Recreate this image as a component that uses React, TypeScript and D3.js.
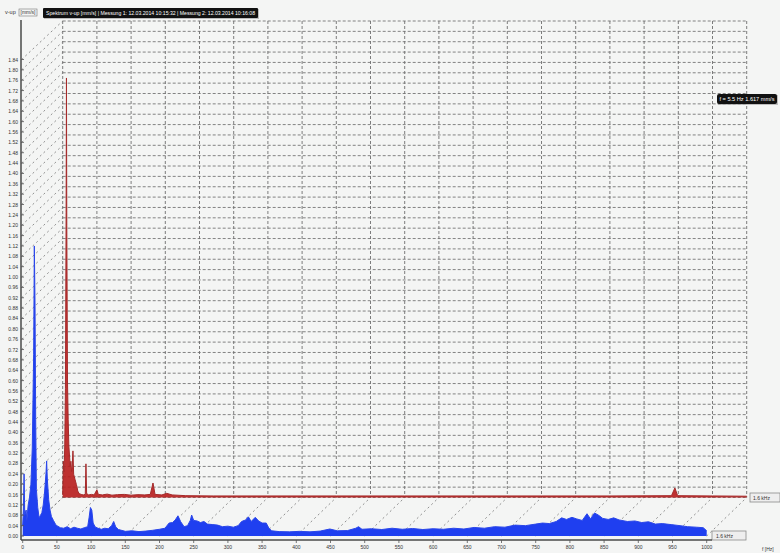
import * as d3 from 'd3';

const W = 780;
const H = 553;

// frequency axis (Hz) and amplitude axis (mm/s)
const X_TICKS = [0, 50, 100, 150, 200, 250, 300, 350, 400, 450, 500, 550, 600, 650, 700, 750, 800, 850, 900, 950, 1000];
const Y_TICKS = [
  0, 0.04, 0.08, 0.12, 0.16, 0.2, 0.24, 0.28, 0.32, 0.36, 0.4, 0.44, 0.48, 0.52, 0.56, 0.6,
  0.64, 0.68, 0.72, 0.76, 0.8, 0.84, 0.88, 0.92, 0.96, 1.0, 1.04, 1.08, 1.12, 1.16, 1.2, 1.24,
  1.28, 1.32, 1.36, 1.4, 1.44, 1.48, 1.52, 1.56, 1.6, 1.64, 1.68, 1.72, 1.76, 1.8, 1.84,
];

// front trace (blue): [Hz, mm/s]
const BLUE: [number, number][] = [
  [0, 0.04], [1, 0.1], [2, 0.24], [3, 0.08], [5, 0.1], [6, 0.06], [8, 0.12], [10, 0.15],
  [12, 0.2], [14, 0.34], [16, 0.7], [17, 1.12], [18, 0.9], [19, 0.45], [20, 0.18], [22, 0.11],
  [24, 0.07], [26, 0.08], [28, 0.09], [30, 0.12], [32, 0.17], [34, 0.24], [35, 0.29], [36, 0.22],
  [38, 0.14], [40, 0.1], [42, 0.075], [45, 0.06], [48, 0.045], [50, 0.04], [55, 0.032], [60, 0.03],
  [65, 0.036], [70, 0.028], [75, 0.034], [80, 0.03], [85, 0.027], [90, 0.032], [95, 0.036], [97, 0.07],
  [99, 0.11], [101, 0.1], [103, 0.05], [106, 0.035], [110, 0.03], [115, 0.026], [120, 0.03], [125, 0.028],
  [130, 0.04], [133, 0.056], [136, 0.035], [140, 0.025], [150, 0.018], [160, 0.02], [170, 0.017], [180, 0.019],
  [190, 0.022], [200, 0.026], [208, 0.03], [214, 0.05], [219, 0.052], [223, 0.062], [227, 0.078], [231, 0.055],
  [236, 0.036], [241, 0.04], [245, 0.06], [247, 0.081], [250, 0.06], [255, 0.058], [260, 0.052], [265, 0.056],
  [270, 0.046], [278, 0.044], [285, 0.042], [292, 0.036], [300, 0.038], [308, 0.034], [315, 0.04], [320, 0.056],
  [326, 0.062], [330, 0.074], [334, 0.056], [340, 0.072], [345, 0.058], [350, 0.05], [356, 0.05], [360, 0.03],
  [364, 0.02], [375, 0.017], [390, 0.016], [405, 0.018], [420, 0.016], [435, 0.019], [449, 0.027], [460, 0.02],
  [475, 0.021], [487, 0.03], [491, 0.036], [496, 0.026], [510, 0.028], [525, 0.025], [540, 0.03], [555, 0.026],
  [570, 0.029], [585, 0.025], [600, 0.028], [615, 0.026], [630, 0.03], [645, 0.027], [660, 0.033], [675, 0.03],
  [690, 0.036], [705, 0.034], [720, 0.042], [735, 0.04], [750, 0.046], [760, 0.05], [770, 0.048], [780, 0.056],
  [788, 0.07], [795, 0.064], [803, 0.072], [810, 0.066], [818, 0.06], [825, 0.086], [830, 0.066], [836, 0.089],
  [842, 0.08], [848, 0.068], [856, 0.064], [864, 0.07], [872, 0.062], [884, 0.056], [895, 0.058], [905, 0.052],
  [915, 0.055], [925, 0.046], [935, 0.048], [948, 0.044], [961, 0.04], [972, 0.036], [985, 0.034], [995, 0.032],
  [1000, 0.02],
];

// back trace (red): [Hz, mm/s]
const RED: [number, number][] = [
  [0, 0.01], [1, 0.14], [2, 0.1], [3, 0.2], [4, 0.42], [5, 1.1], [5.5, 1.62], [6, 1.05],
  [7, 0.45], [8, 0.3], [9, 0.2], [10, 0.16], [11, 0.12], [12, 0.14], [13, 0.1], [14, 0.12],
  [15, 0.18], [16, 0.09], [17, 0.08], [18, 0.07], [19, 0.06], [20, 0.05], [21, 0.04], [22, 0.025],
  [24, 0.015], [27, 0.012], [30, 0.01], [33, 0.012], [34, 0.13], [35, 0.015], [38, 0.01], [42, 0.012],
  [46, 0.01], [50, 0.03], [52, 0.012], [58, 0.01], [65, 0.013], [72, 0.009], [80, 0.011], [90, 0.012],
  [100, 0.009], [110, 0.011], [120, 0.01], [128, 0.012], [132, 0.056], [135, 0.012], [145, 0.01], [152, 0.016],
  [160, 0.01], [180, 0.007], [220, 0.006], [300, 0.006], [400, 0.006], [500, 0.006], [600, 0.006], [700, 0.006],
  [800, 0.006], [890, 0.007], [895, 0.037], [899, 0.007], [950, 0.006], [1000, 0.005],
];

const HEADER = 'Spektrum v-up [mm/s]  |  Messung 1: 12.03.2014 10:15:32  |  Messung 2: 12.03.2014 10:16:08';
const CURSOR = 'f = 5.5 Hz   1.617 mm/s';
const RED_TAG = '1.6 kHz';
const BLUE_TAG = '1.6 kHz';

// depth offset of the back plane
const DX = 40;
const DY = -38.5;

const FONT = '"Liberation Sans", Arial, sans-serif';
const GRID = '#707070';

export default function App() {
  const xF = d3.scaleLinear().domain([0, 1000]).range([22.7, 706.7]);
  const yF = d3.scaleLinear().domain([0, 1.84]).range([536, 59.5]);
  const xB = (f: number) => xF(f) + DX;
  const yB = (v: number) => yF(v) + DY;

  const blueArea = d3
    .area<[number, number]>()
    .x((d) => xF(d[0]))
    .y0(yF(0))
    .y1((d) => yF(d[1]));
  const blueLine = d3
    .line<[number, number]>()
    .x((d) => xF(d[0]))
    .y((d) => yF(d[1]));
  const redArea = d3
    .area<[number, number]>()
    .x((d) => xB(d[0]))
    .y0(yB(0))
    .y1((d) => yB(d[1]));
  const redLine = d3
    .line<[number, number]>()
    .x((d) => xB(d[0]))
    .y((d) => yB(d[1]));

  const top = yB(1.84);
  const left = xB(0);
  const right = xB(1000);
  const bottom = yB(0);

  return (
    <svg
      width={W}
      height={H}
      style={{ position: 'absolute', left: 0, top: 0, background: '#f4f5f4' }}
      fontFamily={FONT}
    >
      <rect width={W} height={H} fill="#f4f5f4" />

      {/* back wall grid */}
      {Y_TICKS.map((t) => (
        <line key={'h' + t} x1={left} x2={right} y1={yB(t)} y2={yB(t)} stroke={GRID} strokeWidth={1} strokeDasharray="3,2" opacity={0.85} />
      ))}
      {X_TICKS.map((t) => (
        <line key={'v' + t} x1={xB(t)} x2={xB(t)} y1={top} y2={bottom} stroke={GRID} strokeWidth={1} strokeDasharray="3,2" opacity={0.9} />
      ))}

      {/* side wall and floor depth lines */}
      {Y_TICKS.map((t) => (
        <line key={'wd' + t} x1={xF(0) - 1} y1={yF(t)} x2={left} y2={yB(t)} stroke={GRID} strokeWidth={1} strokeDasharray="2,3" opacity={0.75} />
      ))}
      {X_TICKS.map((t) => (
        <line key={'fd' + t} x1={xF(t)} y1={yF(0)} x2={xB(t)} y2={yB(0)} stroke={GRID} strokeWidth={1} strokeDasharray="2,3" opacity={0.75} />
      ))}

      {/* back trace */}
      <path d={redArea(RED) ?? ''} fill="#b81c1c" opacity={0.9} />
      <path d={redLine(RED) ?? ''} fill="none" stroke="#a52a2a" strokeWidth={1} />
      <rect x={750} y={493} width={30} height={9} fill="#eeeeee" stroke="#8a8a8a" strokeWidth={0.8} />
      <text x={753} y={499.5} fontSize={5} fill="#333">{RED_TAG}</text>

      {/* front trace */}
      <path d={blueArea(BLUE) ?? ''} fill="#1f3ff0" />
      <path d={blueLine(BLUE) ?? ''} fill="none" stroke="#2a46ea" strokeWidth={1} />
      <rect x={712} y={531} width={34} height={9} fill="#eeeeee" stroke="#8a8a8a" strokeWidth={0.8} />
      <text x={716} y={537.5} fontSize={5} fill="#333">{BLUE_TAG}</text>

      {/* y axis */}
      <line x1={21} x2={21} y1={20} y2={540} stroke="#4a4a4a" strokeWidth={1.5} />
      {Y_TICKS.map((t) => (
        <g key={'yt' + t}>
          <line x1={21} x2={24} y1={yF(t)} y2={yF(t)} stroke="#555" strokeWidth={0.8} />
          <text x={18} y={yF(t) + 2} fontSize={5} textAnchor="end" fill="#333">
            {t.toFixed(2)}
          </text>
        </g>
      ))}
      <text x={5} y={14} fontSize={5.5} fill="#333">v-up</text>
      <rect x={19} y={9} width={18} height={7} fill="none" stroke="#777" strokeWidth={0.6} />
      <text x={20.5} y={14} fontSize={5} fill="#333">[mm/s]</text>

      {/* x axis */}
      <line x1={21} x2={712} y1={540} y2={540} stroke="#4a4a4a" strokeWidth={1.5} />
      {X_TICKS.map((t) => (
        <g key={'xt' + t}>
          <line x1={xF(t)} x2={xF(t)} y1={540} y2={543} stroke="#555" strokeWidth={0.8} />
          <text x={xF(t)} y={549} fontSize={5} textAnchor="middle" fill="#333">
            {t}
          </text>
        </g>
      ))}
      <text x={762} y={551} fontSize={5} fill="#333">f [Hz]</text>

      {/* header and cursor boxes */}
      <rect x={44} y={9} width={215} height={10} fill="#888" opacity={0.5} />
      <rect x={43} y={8} width={215} height={10} rx={1} fill="#111" />
      <text x={46} y={14.8} fontSize={5.2} fill="#fff" textLength={209} lengthAdjust="spacingAndGlyphs">{HEADER}</text>
      <rect x={718} y={95} width={60} height={10} fill="#888" opacity={0.5} />
      <rect x={717} y={94} width={60} height={10} rx={2} fill="#111" />
      <text x={719.5} y={100.8} fontSize={5} fill="#fff" textLength={55} lengthAdjust="spacingAndGlyphs">{CURSOR}</text>
    </svg>
  );
}
